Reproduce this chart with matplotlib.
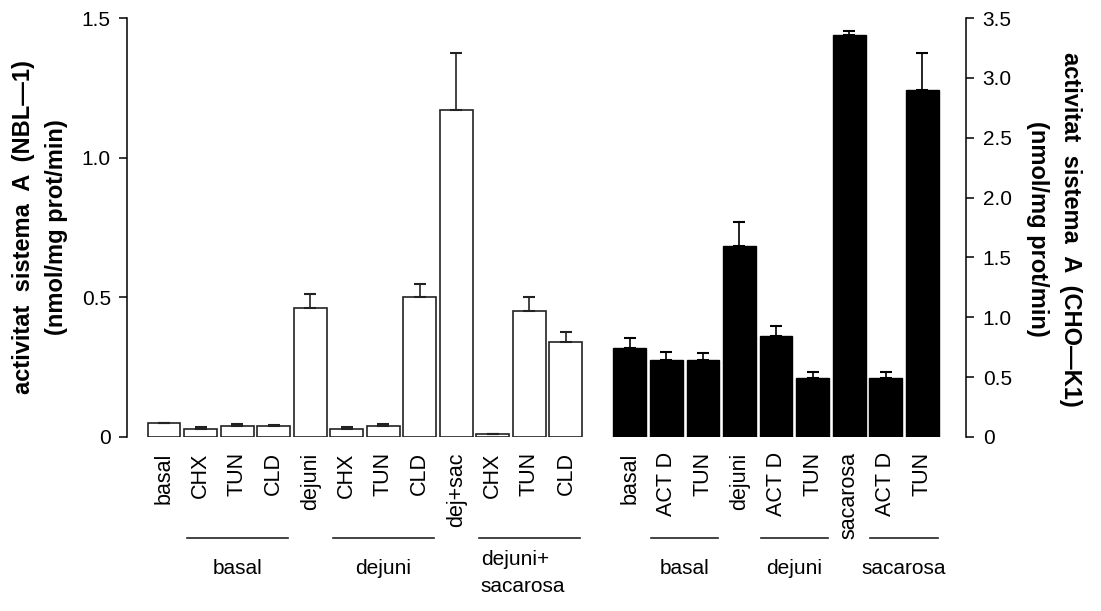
import matplotlib
matplotlib.use("Agg")
import matplotlib.pyplot as plt
import numpy as np

plt.rcParams['font.family'] = ['Liberation Sans', 'DejaVu Sans']

# NBL-1 (eix esquerre, barres blanques)
nbl_labels = ['basal', 'CHX', 'TUN', 'CLD', 'dejuni', 'CHX', 'TUN', 'CLD',
              'dej+sac', 'CHX', 'TUN', 'CLD']
nbl_vals = [0.051, 0.029, 0.039, 0.039, 0.461, 0.029, 0.039, 0.500,
            1.171, 0.010, 0.450, 0.339]
nbl_err = [0.0, 0.007, 0.006, 0.005, 0.050, 0.007, 0.009, 0.049,
           0.203, 0.0, 0.050, 0.038]

# CHO-K1 (eix dret, barres negres)
cho_labels = ['basal', 'ACT D', 'TUN', 'dejuni', 'ACT D', 'TUN',
              'sacarosa', 'ACT D', 'TUN']
cho_vals = [0.746, 0.643, 0.643, 1.598, 0.846, 0.490, 3.360, 0.490, 2.900]
cho_err = [0.081, 0.067, 0.060, 0.198, 0.081, 0.050, 0.035, 0.055, 0.305]

# grups sota l'eix: (text, primera barra, ultima barra)
nbl_groups = [('basal', 1, 3), ('dejuni', 5, 7), ('dejuni+\nsacarosa', 9, 11)]
cho_groups = [('basal', 1, 2), ('dejuni', 4, 5), ('sacarosa', 7, 8)]

x_nbl = np.arange(len(nbl_vals))
x_cho = 12.75 + np.arange(len(cho_vals))

fig = plt.figure(figsize=(11.01, 6.11), dpi=100)
ax = fig.add_axes([0.1158, 0.2848, 0.7616, 0.6857])
ax2 = ax.twinx()

ax.bar(x_nbl, nbl_vals, width=0.9, color='white', edgecolor='#222222', linewidth=1.2, zorder=2)
ax.errorbar(x_nbl, nbl_vals, yerr=[np.zeros(len(nbl_err)), nbl_err], fmt='none',
            ecolor='#222222', elinewidth=1.2, capsize=4.5, capthick=1.5, zorder=3)
ax2.bar(x_cho, cho_vals, width=0.9, color='black', edgecolor='black', linewidth=1.0, zorder=2)
ax2.errorbar(x_cho, cho_vals, yerr=[np.zeros(len(cho_err)), cho_err], fmt='none',
             ecolor='black', elinewidth=1.2, capsize=4.5, capthick=1.5, zorder=3)

ax.set_xlim(-1.0, 21.95)
ax.set_ylim(0, 1.5)
ax2.set_ylim(0, 3.5)

ax.set_yticks([0, 0.5, 1.0, 1.5])
ax.set_yticklabels(['0', '0.5', '1.0', '1.5'])
ax2.set_yticks(np.arange(0, 3.51, 0.5))
ax2.set_yticklabels(['0', '0.5', '1.0', '1.5', '2.0', '2.5', '3.0', '3.5'])

ax.set_xticks(list(x_nbl) + list(x_cho))
ax.set_xticklabels(nbl_labels + cho_labels, rotation=90, va='top', ha='center', fontsize=15.5)
ax.tick_params(axis='x', length=0, pad=11)

for a in (ax, ax2):
    for s in ('top', 'bottom'):
        a.spines[s].set_visible(False)
    a.tick_params(axis='y', direction='out', length=6, width=1.1, labelsize=15, pad=6)
ax.spines['right'].set_visible(False)
ax2.spines['left'].set_visible(False)
ax.spines['left'].set_linewidth(1.1)
ax2.spines['right'].set_linewidth(1.1)

tr = ax.get_xaxis_transform()
for text, i0, i1 in nbl_groups:
    x0, x1 = x_nbl[i0] - 0.38, x_nbl[i1] + 0.38
    ax.plot([x0, x1], [-0.241, -0.241], color='#222222', lw=1.2, transform=tr, clip_on=False)
    if '\n' in text:
        ax.text(x0 + 0.05, -0.27, text, transform=tr, ha='left', va='top',
                fontsize=15, linespacing=1.5)
    else:
        ax.text((x0 + x1) / 2, -0.313, text, transform=tr, ha='center', va='center', fontsize=15)
for text, i0, i1 in cho_groups:
    x0, x1 = x_cho[i0] - 0.42, x_cho[i1] + 0.42
    ax.plot([x0, x1], [-0.241, -0.241], color='#222222', lw=1.2, transform=tr, clip_on=False)
    ax.text((x0 + x1) / 2, -0.313, text, transform=tr, ha='center', va='center', fontsize=15)

fig.text(40 / 1101, 1 - 227 / 611, 'activitat  sistema  A  (NBL\u20141)\n(nmol/mg prot/min)',
         rotation=90, ha='center', va='center', fontsize=17, fontweight='bold',
         linespacing=1.55, multialignment='center')
fig.text(1054 / 1101, 1 - 229 / 611, 'activitat  sistema  A  (CHO\u2014K1)\n(nmol/mg prot/min)',
         rotation=270, ha='center', va='center', fontsize=17, fontweight='bold',
         linespacing=1.55, multialignment='center')

fig.savefig('out.png', dpi=100)
